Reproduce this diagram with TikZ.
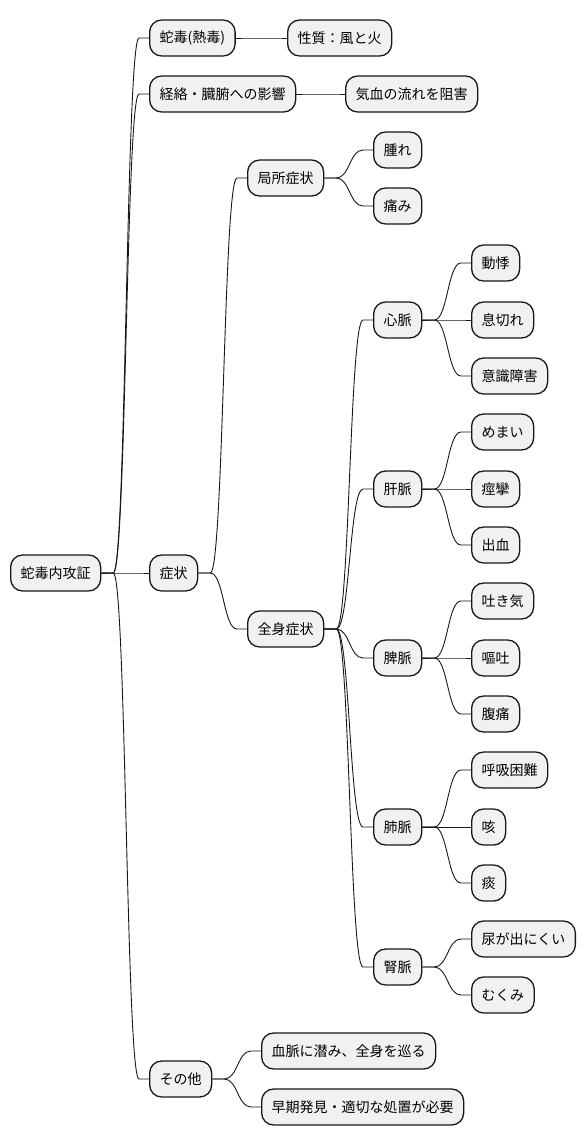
\documentclass[tikz,border=0pt]{standalone}
\usepackage{fontspec}
\setmainfont{Noto Sans CJK JP}
\usetikzlibrary{calc}
\definecolor{boxfill}{HTML}{F1F1F1}
\definecolor{boxline}{HTML}{181818}
\tikzset{
  mmbox/.style={draw=boxline, fill=boxfill, line width=1.3pt, rounded corners=12pt,
    minimum height=36pt, inner xsep=10pt, inner ysep=0pt, anchor=west,
    font=\fontsize{14pt}{17pt}\selectfont, text=black},
  link/.style={draw=boxline, line width=0.9pt}
}
\newcommand\mmconn[2]{%
  \draw[link] let \p1=(#1.east), \p2=(#2.west) in
    (\p1) -- (\x1+12pt,\y1)
    .. controls ({0.5*\x1+0.5*\x2+1pt},\y1) and ({0.5*\x1+0.5*\x2+1pt},\y2) ..
    (\x2-10pt,\y2) -- (\p2);}
\begin{document}
\begin{tikzpicture}[x=1pt,y=-1pt]
\useasboundingbox (0,0) rectangle (586,1146);
\node[mmbox] (root) at (10,573) {蛇毒内攻証};
\node[mmbox] (n1) at (149,38) {蛇毒(熱毒)};
\node[mmbox] (n1a) at (287,38) {性質：風と火};
\node[mmbox] (n2) at (149,94) {経絡・臓腑への影響};
\node[mmbox] (n2a) at (345,94) {気血の流れを阻害};
\node[mmbox] (n3) at (149,573) {症状};
\node[mmbox] (loc) at (247,178) {局所症状};
\node[mmbox] (loc1) at (373,150) {腫れ};
\node[mmbox] (loc2) at (373,206) {痛み};
\node[mmbox] (gen) at (247,629) {全身症状};
\node[mmbox] (ht) at (373,320) {心脈};
\node[mmbox] (ht1) at (471,263) {動悸};
\node[mmbox] (ht2) at (471,320) {息切れ};
\node[mmbox] (ht3) at (471,376) {意識障害};
\node[mmbox] (lv) at (373,489) {肝脈};
\node[mmbox] (lv1) at (471,432) {めまい};
\node[mmbox] (lv2) at (471,489) {痙攣};
\node[mmbox] (lv3) at (471,545) {出血};
\node[mmbox] (sp) at (373,658) {脾脈};
\node[mmbox] (sp1) at (471,601) {吐き気};
\node[mmbox] (sp2) at (471,658) {嘔吐};
\node[mmbox] (sp3) at (471,714) {腹痛};
\node[mmbox] (lu) at (373,827) {肺脈};
\node[mmbox] (lu1) at (471,770) {呼吸困難};
\node[mmbox] (lu2) at (471,827) {咳};
\node[mmbox] (lu3) at (471,883) {痰};
\node[mmbox] (kd) at (373,967) {腎脈};
\node[mmbox] (kd1) at (471,939) {尿が出にくい};
\node[mmbox] (kd2) at (471,995) {むくみ};
\node[mmbox] (n4) at (149,1079) {その他};
\node[mmbox] (n4a) at (261,1051) {血脈に潜み、全身を巡る};
\node[mmbox] (n4b) at (261,1107) {早期発見・適切な処置が必要};
\mmconn{root}{n1}
\mmconn{root}{n2}
\mmconn{root}{n3}
\mmconn{root}{n4}
\mmconn{n1}{n1a}
\mmconn{n2}{n2a}
\mmconn{n3}{loc}
\mmconn{n3}{gen}
\mmconn{loc}{loc1}
\mmconn{loc}{loc2}
\mmconn{gen}{ht}
\mmconn{gen}{lv}
\mmconn{gen}{sp}
\mmconn{gen}{lu}
\mmconn{gen}{kd}
\mmconn{ht}{ht1}
\mmconn{ht}{ht2}
\mmconn{ht}{ht3}
\mmconn{lv}{lv1}
\mmconn{lv}{lv2}
\mmconn{lv}{lv3}
\mmconn{sp}{sp1}
\mmconn{sp}{sp2}
\mmconn{sp}{sp3}
\mmconn{lu}{lu1}
\mmconn{lu}{lu2}
\mmconn{lu}{lu3}
\mmconn{kd}{kd1}
\mmconn{kd}{kd2}
\mmconn{n4}{n4a}
\mmconn{n4}{n4b}
\end{tikzpicture}
\end{document}
